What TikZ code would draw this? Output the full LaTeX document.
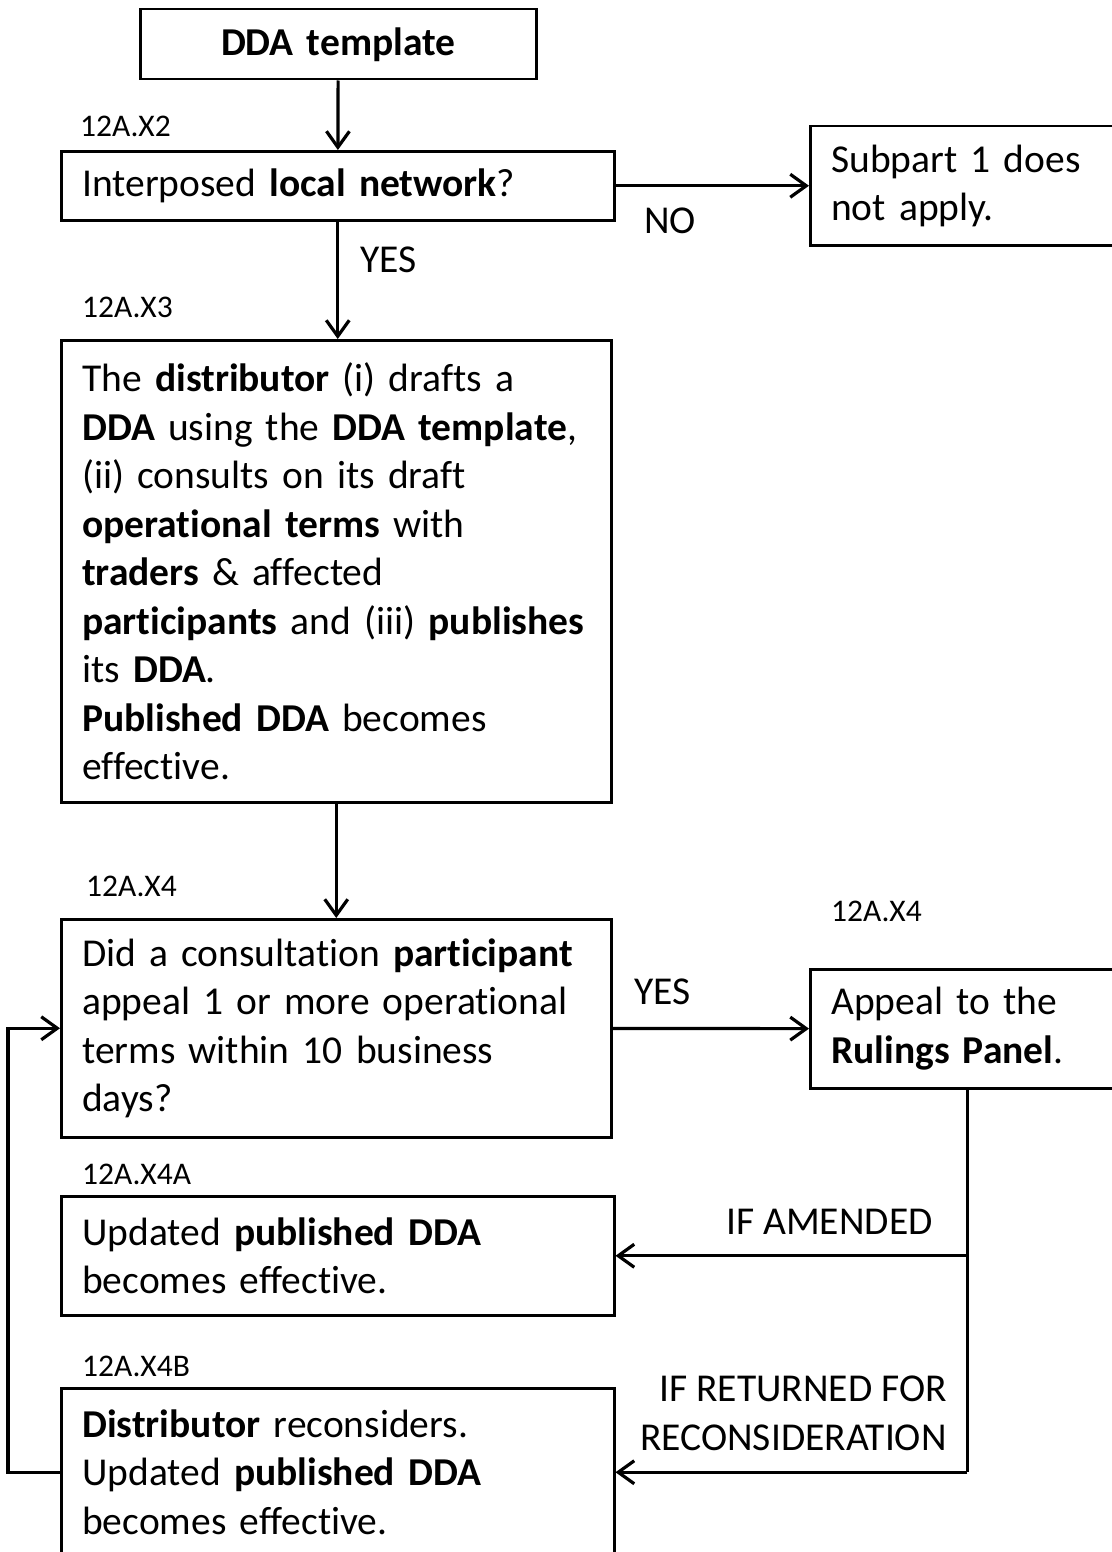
\documentclass[tikz,border=0pt]{standalone}
\usepackage{fontspec}
\setmainfont{Carlito}[Ligatures=NoCommon]
\usetikzlibrary{arrows.meta}
\hyphenpenalty=10000
\exhyphenpenalty=10000

\begin{document}
\begin{tikzpicture}[x=1pt, y=-1pt,
  every node/.style={font=\fontsize{39.5}{48.5}\selectfont},
  box/.style={draw, line width=2.5pt, anchor=north west, inner xsep=21pt, inner ysep=0pt, align=left},
  tag/.style={anchor=base west, inner sep=0pt, font=\fontsize{31.5}{37}\selectfont},
  flow/.style={line width=3.2pt, -{Straight Barb[length=16pt,width=23pt]}},
  answer/.style={inner sep=0pt}]
\useasboundingbox (0,0) rectangle (1111,1552);
\node[box, align=center, text width=354pt, minimum height=70pt] (dda) at (139,8) {\textbf{DDA template}};
\node[box, text width=511pt, minimum height=69pt] (q1) at (60,150) {Interposed \textbf{local network}?};
\node[box, text width=272pt, minimum height=119pt] (sub) at (809,125) {Subpart 1 does\\not apply.};
\node[box, text width=508pt, minimum height=462pt] (x3) at (60,339) {The \textbf{distributor} (i) drafts a\\
\textbf{DDA} using the \textbf{DDA template},\\
(ii) consults on its draft\\
\textbf{operational terms} with\\
\textbf{traders} \& affected\\
\textbf{participants} and (iii) \textbf{publishes}\\
its \textbf{DDA}.\\
\textbf{Published DDA} becomes\\
effective.};
\node[box, text width=508pt, minimum height=218pt] (x4) at (60,918) {Did a consultation \textbf{participant}\\
appeal 1 or more operational\\
terms within 10 business\\
days?};
\node[box, text width=272pt, minimum height=119pt] (appeal) at (809,968) {Appeal to the\\\textbf{Rulings Panel}.};
\node[box, text width=511pt, minimum height=119pt] (x4a) at (60,1195) {Updated \textbf{published DDA}\\becomes effective.};
\node[box, text width=511pt, minimum height=168pt] (x4b) at (60,1387) {\textbf{Distributor} reconsiders.\\Updated \textbf{published DDA}\\becomes effective.};

\node[tag] (t2) at (80,137) {12A.X2};
\node[tag] (t3) at (82,317) {12A.X3};
\node[tag] (t4) at (86,896) {12A.X4};
\node[tag] (t4r) at (831,921) {12A.X4};
\node[tag] (t4a) at (82,1184) {12A.X4A};
\node[tag] (t4b) at (82,1376) {12A.X4B};

\draw[flow] (dda) -- (q1);
\draw[flow] (q1) -- node[answer, pos=0, anchor=base west, xshift=27pt, yshift=-48pt] {NO} (sub);
\draw[flow] (q1.south) -- node[answer, pos=0, anchor=base west, xshift=21pt, yshift=-51pt] {YES} (q1.south |- x3.north);
\draw[flow] (x3) -- (x4);
\draw[flow] (x4) -- node[answer, pos=0, anchor=base west, xshift=20pt, yshift=24pt] {YES} (appeal);
\draw[line width=3.2pt] (appeal.south) -- (appeal.south |- x4b.east);
\draw[flow] (appeal.south |- x4a.east) -- node[answer, pos=0, anchor=base east, xshift=-33pt, yshift=21pt] {IF AMENDED} (x4a.east);
\draw[flow] (appeal.south |- x4b.east) -- node[answer, pos=0, anchor=east, align=right, xshift=-19pt, yshift=59pt] {IF RETURNED FOR\\RECONSIDERATION} (x4b.east);
\draw[flow] (x4b.west) -- ++(-52,0) |- (x4.west);
\end{tikzpicture}
\end{document}
